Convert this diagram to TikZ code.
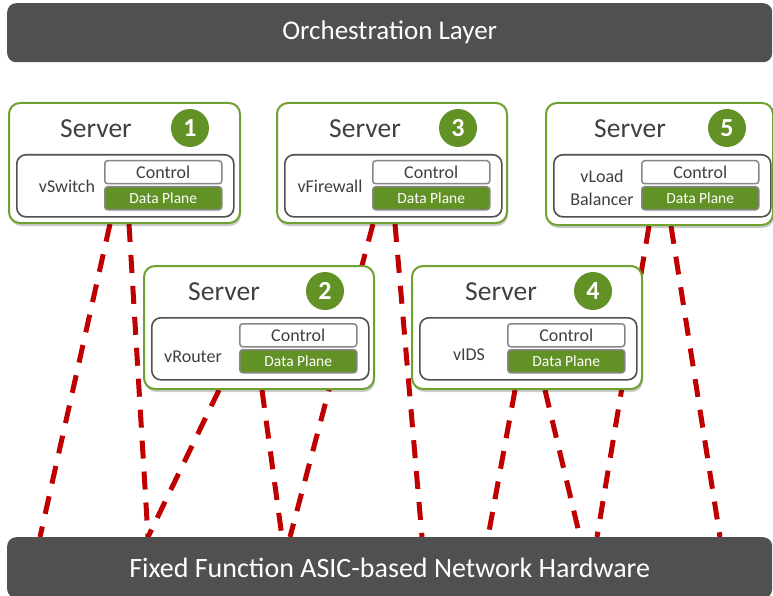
\documentclass[tikz,border=0pt]{standalone}
\usepackage{fontspec}
\setmainfont{Carlito}
\usetikzlibrary{calc,shadows,backgrounds}
\definecolor{barc}{RGB}{80,80,80}
\definecolor{gborder}{RGB}{112,160,48}
\definecolor{gfill}{RGB}{98,145,38}
\definecolor{txt}{RGB}{64,64,64}
\definecolor{linkred}{RGB}{192,0,0}
\definecolor{innerc}{RGB}{80,80,80}
\definecolor{ctrlc}{RGB}{135,135,135}
\tikzset{
  barbox/.style={fill=barc, rounded corners=9pt, text=white, font=\fontsize{27}{30}\selectfont, inner sep=0pt},
  serverbox/.style={draw=gborder, line width=2pt, fill=white, rounded corners=11pt, anchor=north west, inner sep=0pt,
    drop shadow={shadow xshift=1pt, shadow yshift=-3pt, opacity=0.2, fill=black}},
  innerbox/.style={draw=innerc, line width=1.6pt, fill=white, rounded corners=9pt, anchor=north west, inner sep=0pt, minimum width=217pt, minimum height=62pt},
  ctrlbox/.style={draw=ctrlc, line width=1.5pt, fill=white, rounded corners=3pt, anchor=north west, inner sep=0pt, minimum width=117pt, minimum height=23pt, text=txt, font=\fontsize{18}{20}\selectfont},
  dpbox/.style={draw=ctrlc, line width=1.5pt, fill=gfill, rounded corners=3pt, anchor=north west, inner sep=0pt, minimum width=117pt, minimum height=23pt, text=white, font=\fontsize{15.5}{17}\selectfont},
  lbl/.style={text=txt, font=\fontsize{18}{23}\selectfont, align=center, inner sep=0pt},
  srvtxt/.style={text=txt, font=\fontsize{27.5}{30}\selectfont, inner sep=0pt},
  numc/.style={circle, fill=gfill, text=white, minimum size=38pt, inner sep=0pt, font=\fontsize{26}{26}\selectfont\bfseries},
  link/.style={draw=linkred, line width=5pt, dash pattern=on 18pt off 13pt}
}
% #1 name, #2 (x0,y0), #3 width, #4 height, #5 number, #6 label, #7 label pos, #8 server text pos
\newcommand\srvbox[8]{%
  \node[serverbox, minimum width=#3pt, minimum height=#4pt] (#1) at #2 {};
  \begin{scope}[shift={#2}]
    \node[innerbox] (#1in) at (8,52) {};
    \node[ctrlbox] (#1c) at (96,58) {Control};
    \node[dpbox] (#1d) at (96,84) {Data Plane};
    \node[lbl] (#1l) at #7 {#6};
    \node[srvtxt] (#1t) at #8 {Server};
    \node[numc] (#1n) at (182,26) {#5};
  \end{scope}}
\begin{document}
\begin{tikzpicture}[x=1pt,y=-1pt]
\useasboundingbox (0,0) rectangle (773,596);
\node[barbox, minimum width=765pt, minimum height=59pt, anchor=north west] (orch) at (7,3) {Orchestration Layer};
\node[barbox, minimum width=765pt, minimum height=61pt, anchor=north west, font=\fontsize{28}{30}\selectfont] (hw) at (7,537) {Fixed Function ASIC-based Network Hardware};

\srvbox{s1}{(8,102)}{231}{120}{1}{vSwitch}{(59,84)}{(88,27)}
\srvbox{s3}{(276,102)}{230}{120}{3}{vFirewall}{(54,84)}{(89,27)}
\srvbox{s5}{(545,102)}{227}{122}{5}{vLoad\\Balancer}{(57,86)}{(85,27)}
\srvbox{s2}{(143,265)}{230}{123}{2}{vRouter}{(50,92)}{(81,27)}
\srvbox{s4}{(411,265)}{230}{123}{4}{vIDS}{(58,90)}{(90,27)}

\begin{pgfonlayer}{background}
\draw[link] ($(s1.south west)+(102,0)$) -- ($(hw.north west)+(33,0)$);
\draw[link] ($(s1.south west)+(121,0)$) -- ($(hw.north west)+(141,0)$);
\draw[link] ($(s2.south west)+(76,0)$) -- ($(hw.north west)+(141,0)$);
\draw[link] ($(s2.south west)+(119,0)$) -- ($(hw.north west)+(275,0)$);
\draw[link] ($(s3.south west)+(97,0)$) -- ($(hw.north west)+(283,0)$);
\draw[link] ($(s3.south west)+(119,0)$) -- ($(hw.north west)+(415,0)$);
\draw[link] ($(s4.south west)+(104,0)$) -- ($(hw.north west)+(481,0)$);
\draw[link] ($(s4.south west)+(134,0)$) -- ($(hw.north west)+(573,0)$);
\draw[link] ($(s5.south west)+(104,0)$) -- ($(hw.north west)+(590,0)$);
\draw[link] ($(s5.south west)+(126,0)$) -- ($(hw.north west)+(713,0)$);
\end{pgfonlayer}
\end{tikzpicture}
\end{document}
